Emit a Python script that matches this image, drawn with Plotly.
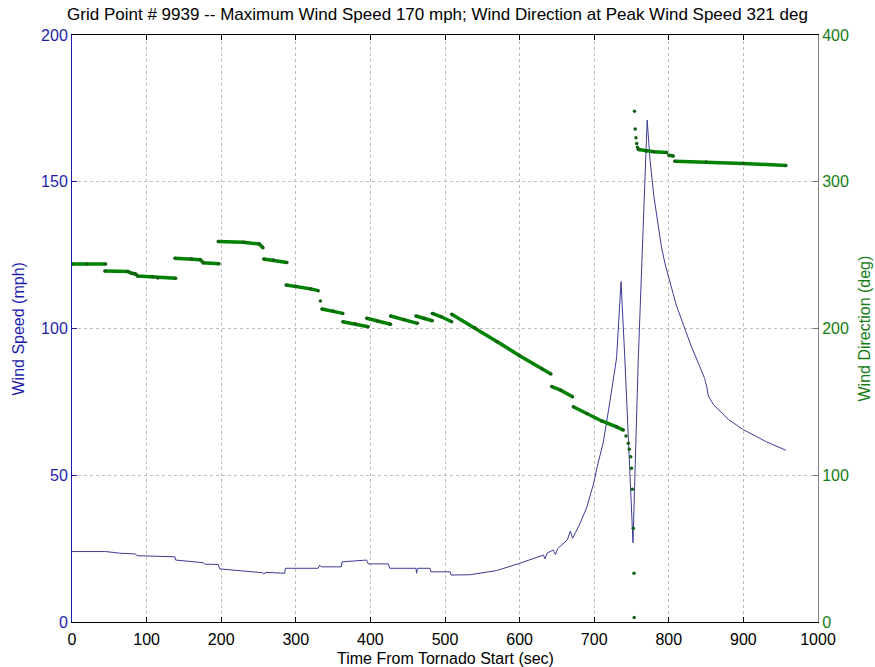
import plotly.graph_objects as go

# wind speed trace (time in sec, speed in mph)
speed_t = [0, 45, 66, 85, 87, 138, 139, 176, 178, 196, 198, 252, 255, 257, 260, 285, 286,
           330, 332, 334, 361, 362, 395, 397, 424, 426, 461, 462, 463, 480, 481, 507, 508,
           533, 569, 600, 632, 634, 637, 645, 648, 651, 664, 668, 671, 675, 680, 690, 699,
           705, 712, 721, 730, 736, 741, 752, 759, 771, 775, 780, 785, 790, 795, 800, 810,
           820, 830, 840, 848, 851, 853, 860, 870, 880, 900, 930, 957]
speed_mph = [24.0, 24.0, 23.4, 23.2, 22.6, 22.2, 21.1, 20.2, 19.7, 19.6, 18.1, 17.1, 16.8, 16.4,
             16.9, 16.6, 18.3, 18.3, 19.4, 18.8, 18.8, 20.5, 21.1, 19.8, 19.8, 18.3, 18.3, 16.6,
             18.3, 18.3, 17.1, 17.1, 16.0, 16.1, 17.5, 20.0, 22.8, 21.5, 23.5, 24.5, 23.0, 25.0,
             28.0, 31.0, 28.5, 30.5, 33.0, 39.0, 47.0, 54.0, 61.0, 75.0, 90.0, 116.0, 90.0, 27.0,
             89.0, 171.0, 157.0, 145.0, 136.0, 128.0, 122.0, 117.0, 108.0, 101.0, 94.0, 88.0,
             83.0, 80.0, 77.0, 74.0, 71.5, 69.0, 65.5, 61.5, 58.5]

# wind direction (deg); None splits the plateaus, lone points are single dots
dir_t = [0, 20, 45, None,
         44, 75, 80, 85, 88, 108, 115, 139, None,
         138, 160, 172, 176, 197, None,
         196, 230, 251, 256, None,
         257, 270, 288, None,
         287, 300, 320, 330, None,
         333, None,
         335, 350, 363, None,
         363, 380, 397, None,
         395, 410, 427, None,
         427, 445, 463, None,
         461, 472, 483, None,
         483, 495, 509, None,
         509, 540, 570, 600, 630, 642, None,
         643, 655, 671, None,
         672, 690, 710, 730, 739, None,
         742.6, None, 745.7, None, 747, None, 749, None, 750, None, 751, None,
         752.4, None, 753.4, None, 753.6, None,
         754, None, 755, None, 756, None, 757, None, 758, None,
         759, 770, 780, 797, None,
         800, 806, None,
         808, 850, 900, 957]
dir_deg = [244, 244, 244, None,
           239.2, 238.8, 237.6, 237.2, 235.8, 235.2, 234.4, 234.2, None,
           247.8, 247.5, 246.8, 244.8, 244.2, None,
           259.2, 258.7, 257.6, 255, None,
           247.4, 246.6, 245, None,
           229.6, 228.8, 227, 225.8, None,
           218.7, None,
           213.3, 212, 210.3, None,
           204.6, 203, 201.2, None,
           207, 205, 202.9, None,
           208.5, 206, 203.5, None,
           208.5, 207, 205.3, None,
           210.3, 208, 204.6, None,
           209.7, 200.5, 191, 181.5, 172.5, 169, None,
           160.4, 158, 153.5, None,
           146.7, 142, 137, 133, 130.8, None,
           126.7, None, 121.8, None, 117.7, None, 112.6, None, 104.7, None, 90.4, None,
           63.8, None, 33.2, None, 3, None,
           348, None, 336, None, 330, None, 326, None, 323.5, None,
           322, 321, 320.5, 320, None,
           318, 317.5, None,
           314, 313.5, 312.5, 311]

blue = "rgb(30,30,170)"
green = "rgb(20,125,20)"
font = "Liberation Sans, Arial, sans-serif"
grid = dict(showgrid=True, gridcolor="rgb(190,190,190)", griddash="dot", gridwidth=1)

fig = go.Figure()
fig.add_trace(go.Scatter(x=speed_t, y=speed_mph, mode="lines",
                         line=dict(color="rgb(60,60,150)", width=1), showlegend=False))
fig.add_trace(go.Scatter(x=dir_t, y=dir_deg, mode="lines+markers", yaxis="y2",
                         line=dict(color="rgb(0,130,0)", width=3.5),
                         marker=dict(color="rgb(20,95,20)", size=3.5),
                         connectgaps=False, showlegend=False))

fig.update_layout(
    width=875, height=667,
    margin=dict(l=72, r=57, t=35, b=45, autoexpand=False),
    paper_bgcolor="white", plot_bgcolor="white",
    font=dict(family=font, size=16, color="black"),
    title=dict(text="Grid Point # 9939 -- Maximum Wind Speed 170 mph; Wind Direction at Peak Wind Speed 321 deg",
               x=0.5, xanchor="center", y=1 - 14 / 667, yanchor="middle", yref="container",
               font=dict(size=17, color="black")),
    xaxis=dict(range=[0, 1000], dtick=100, ticks="inside", ticklen=5, tickcolor="black",
               showline=True, linecolor="black", linewidth=1, mirror="ticks",
               ticklabelstandoff=3,
               zeroline=False, automargin=False, **grid),
    yaxis=dict(range=[0, 200], dtick=50, ticks="inside", ticklen=5, tickcolor=blue,
               showline=True, linecolor=blue, linewidth=1,
               zeroline=False, automargin=False, tickfont=dict(color=blue), **grid),
    yaxis2=dict(range=[0, 400], dtick=100, overlaying="y", side="right",
                ticks="inside", ticklen=5, tickcolor="rgb(120,120,120)",
                showline=True, linecolor="rgb(130,130,130)", linewidth=1,
                showgrid=False, zeroline=False, automargin=False,
                tickfont=dict(color=green)),
    annotations=[
        dict(text="Time From Tornado Start (sec)", xref="paper", yref="paper",
             x=0.5, y=-36 / 587, xanchor="center", yanchor="middle", showarrow=False,
             font=dict(size=16, color="black")),
        dict(text="Wind Speed (mph)", xref="paper", yref="paper", textangle=-90,
             x=-54 / 746, y=0.5, xanchor="center", yanchor="middle", showarrow=False,
             font=dict(size=16, color=blue)),
        dict(text="Wind Direction (deg)", xref="paper", yref="paper", textangle=-90,
             x=1 + 46 / 746, y=0.5, xanchor="center", yanchor="middle", showarrow=False,
             font=dict(size=16, color=green)),
    ],
)

# drop the page's default body margin so the figure sits at the window corner
fig.write_html("out.html", config={"displayModeBar": False},
               post_script="document.body.style.margin='0';")
